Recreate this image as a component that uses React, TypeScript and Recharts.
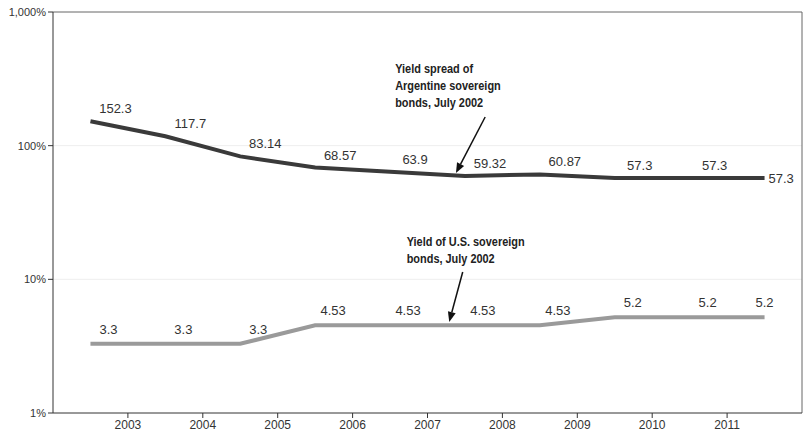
import React from 'react';
import {
  LineChart,
  Line,
  XAxis,
  YAxis,
  ReferenceLine,
  LabelList,
} from 'recharts';

const tickYears = [2003, 2004, 2005, 2006, 2007, 2008, 2009, 2010, 2011];
const argentinaSpread = [152.3, 117.7, 83.14, 68.57, 63.9, 59.32, 60.87, 57.3, 57.3, 57.3];
const usYield = [3.3, 3.3, 3.3, 4.53, 4.53, 4.53, 4.53, 5.2, 5.2, 5.2];
const yTicks = [1, 10, 100, 1000];

const argLabel = ['Yield spread of', 'Argentine sovereign', 'bonds, July 2002'];
const usLabel = ['Yield of U.S. sovereign', 'bonds, July 2002'];

// points sit in the middle of each year band (axis runs 0..10, ticks on the boundaries)
const data = argentinaSpread.map((v, i) => ({ pos: i + 0.5, arg: v, us: usYield[i] }));

const labelFont = '"Liberation Sans", Arial, sans-serif';

const ArgLabel = (props: any) => {
  const { x, y, value, index } = props;
  const last = index === argentinaSpread.length - 1;
  return (
    <text
      x={last ? x + 4 : x + 25}
      y={last ? y + 5 : y - 8}
      textAnchor={last ? 'start' : 'middle'}
      fontSize={13}
      fontFamily={labelFont}
      fill="#333"
    >
      {value}
    </text>
  );
};

const UsLabel = (props: any) => {
  const { x, y, value, index } = props;
  const last = index === usYield.length - 1;
  return (
    <text
      x={last ? x : x + 18}
      y={y - 10}
      textAnchor="middle"
      fontSize={13}
      fontFamily={labelFont}
      fill="#333"
    >
      {value}
    </text>
  );
};

// arrow + condensed bold note, text placed relative to the arrow's tail
const arrowNote = (lines: string[], dx: number, dy: number) => (props: any) => {
  const { x1, y1, x2, y2 } = props;
  const ang = Math.atan2(y2 - y1, x2 - x1);
  const len = 10;
  const w = 4;
  const bx = x2 - len * Math.cos(ang);
  const by = y2 - len * Math.sin(ang);
  const px = -Math.sin(ang) * w;
  const py = Math.cos(ang) * w;
  const tx = x1 + dx;
  return (
    <g>
      <line x1={x1} y1={y1} x2={bx} y2={by} stroke="#111" strokeWidth={1.5} />
      <polygon points={`${x2},${y2} ${bx + px},${by + py} ${bx - px},${by - py}`} fill="#111" />
      <g transform={`translate(${tx},0) scale(0.81,1)`}>
        {lines.map((t, i) => (
          <text
            key={i}
            x={0}
            y={y1 + dy + i * 17}
            fontSize={13.5}
            fontWeight="bold"
            fontFamily={labelFont}
            fill="#222"
          >
            {t}
          </text>
        ))}
      </g>
    </g>
  );
};

export default function App() {
  return (
    <div style={{ position: 'absolute', left: 0, top: 0, background: '#fff' }}>
      <LineChart width={805} height={432} data={data} margin={{ top: 12, right: 3, bottom: 0, left: 0 }}>
        <ReferenceLine y={10} stroke="#eeeeee" />
        <ReferenceLine y={100} stroke="#eeeeee" />
        <ReferenceLine y={1000} stroke="#666" />
        <ReferenceLine x={10} stroke="#666" />
        <XAxis
          dataKey="pos"
          type="number"
          domain={[0, 10]}
          ticks={tickYears.map((_, i) => i + 1)}
          tickFormatter={(v) => String(tickYears[v - 1])}
          stroke="#333"
          tickSize={5}
          height={19}
          tick={{ fontSize: 12, fill: '#333', fontFamily: labelFont }}
          allowDataOverflow
        />
        <YAxis
          scale="log"
          domain={[1, 1000]}
          ticks={yTicks}
          allowDataOverflow
          width={53}
          stroke="#333"
          tickSize={5}
          tickFormatter={(v) => `${Number(v).toLocaleString('en-US')}%`}
          tick={{ fontSize: 11, fill: '#333', fontFamily: labelFont }}
        />
        <Line
          dataKey="arg"
          type="linear"
          stroke="#3a3a3a"
          strokeWidth={4}
          dot={false}
          isAnimationActive={false}
        >
          <LabelList dataKey="arg" content={ArgLabel} />
        </Line>
        <Line
          dataKey="us"
          type="linear"
          stroke="#9a9a9a"
          strokeWidth={4}
          dot={false}
          isAnimationActive={false}
        >
          <LabelList dataKey="us" content={UsLabel} />
        </Line>
        <ReferenceLine
          segment={[{ x: 5.77, y: 163.9 }, { x: 5.38, y: 62.5 }]}
          shape={arrowNote(argLabel, -90, -44)}
        />
        <ReferenceLine
          segment={[{ x: 5.47, y: 11.36 }, { x: 5.29, y: 4.8 }]}
          shape={arrowNote(usLabel, -56, -26)}
        />
      </LineChart>
    </div>
  );
}
